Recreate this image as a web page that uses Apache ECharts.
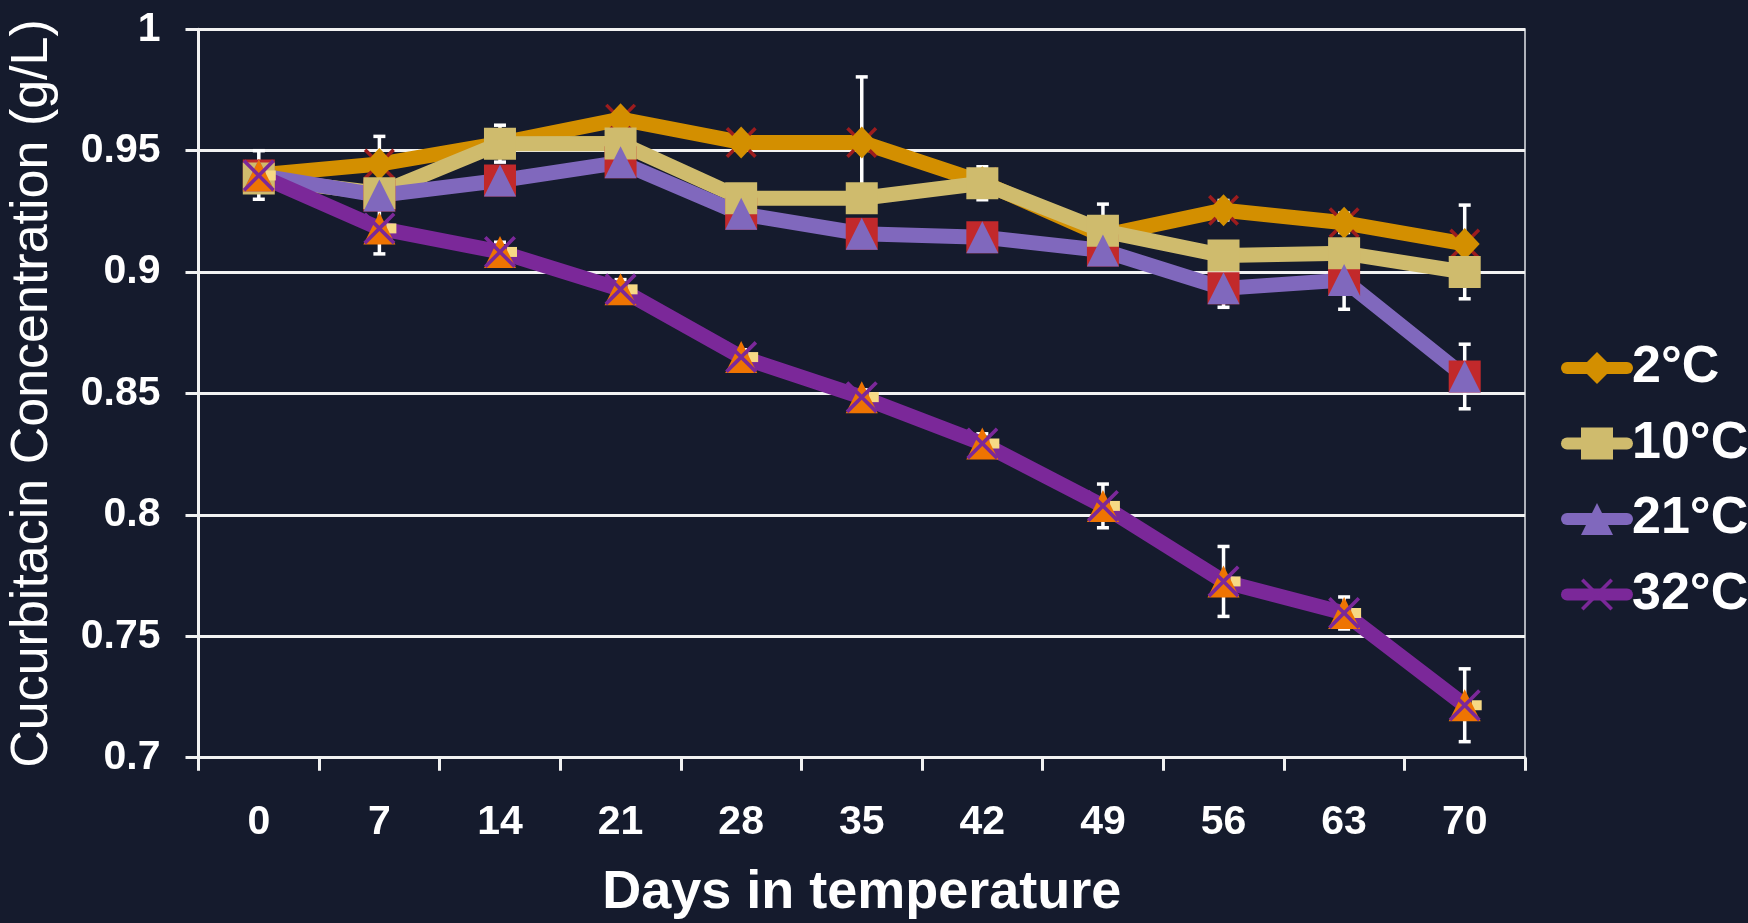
<!DOCTYPE html>
<html>
<head>
<meta charset="utf-8">
<script src="https://cdn.jsdelivr.net/npm/echarts@6/dist/echarts.min.js"></script>
<style>
html,body{margin:0;padding:0;background:#151b2d;}
#chart{width:1748px;height:923px;}
</style>
</head>
<body>
<div id="chart"></div>
<script>
const days = ['0','7','14','21','28','35','42','49','56','63','70'];
const seriesNames = ['2°C','10°C','21°C','32°C'];
const c2  = [0.940, 0.9445, 0.953, 0.963, 0.9534, 0.9534, 0.937, 0.915, 0.9255, 0.9203, 0.9116];
const c10 = [0.9385, 0.9325, 0.9529, 0.953, 0.9304, 0.9304, 0.9366, 0.917, 0.9068, 0.9078, 0.900];
const c21 = [0.9398, 0.9316, 0.9377, 0.9452, 0.924, 0.9158, 0.9144, 0.9089, 0.8933, 0.8967, 0.857];
const c32 = [0.9398, 0.918, 0.9083, 0.8929, 0.865, 0.8485, 0.8294, 0.8037, 0.7726, 0.7596, 0.7216];
const e2  = [0.010, 0.0114, 0.003, 0.003, 0.003, 0.027, 0.003, 0.004, 0.004, 0.004, 0.016];
const e10 = [0.003, 0.004, 0.0076, 0.004, 0.003, 0.003, 0.0068, 0.011, 0.004, 0.004, 0.011];
const e21 = [0.003, 0.004, 0.004, 0.004, 0.003, 0.003, 0.003, 0.004, 0.0078, 0.012, 0.0133];
const e32 = [0.003, 0.0105, 0.004, 0.004, 0.003, 0.003, 0.004, 0.009, 0.0144, 0.0066, 0.015];

const FONT = '"Liberation Sans", Arial, sans-serif';
const COL2 = '#d38f00', COL10 = '#cfbb6d', COL21 = '#8068bd', COL32 = '#7b2899';
const XPATH = 'path://M8,0 L50,42 L92,0 L100,8 L58,50 L100,92 L92,100 L50,58 L8,100 L0,92 L42,50 L0,8 Z';

function errData(vals, errs){ return vals.map((v,i)=>[i, v, errs[i]]); }
const allErr = [].concat(errData(c2,e2), errData(c10,e10), errData(c21,e21), errData(c32,e32));

function renderErr(params, api){
  const i = api.value(0), v = api.value(1), e = api.value(2);
  const top = api.coord([i, v + e]);
  const bot = api.coord([i, v - e]);
  const cap = 6;
  const st = {stroke:'#ffffff', lineWidth:3.5};
  return {type:'group', children:[
    {type:'line', shape:{x1:top[0], y1:top[1], x2:bot[0], y2:bot[1]}, style:st},
    {type:'line', shape:{x1:top[0]-cap, y1:top[1], x2:top[0]+cap, y2:top[1]}, style:st},
    {type:'line', shape:{x1:bot[0]-cap, y1:bot[1], x2:bot[0]+cap, y2:bot[1]}, style:st}
  ]};
}

function lineSeries(name, data, color, symbol, size){
  return {
    name: name, type:'line', data: data, symbol: symbol, symbolSize: size,
    showSymbol:true, showAllSymbol:true, animation:false,
    lineStyle:{color:color, width:15, cap:'round', join:'round'},
    itemStyle:{color:color},
    emphasis:{disabled:true}
  };
}
function markerSeries(data, color, symbol, size, offset){
  return {
    type:'scatter', data: data, symbol: symbol, symbolSize: size,
    symbolOffset: offset || [0,0], animation:false,
    itemStyle:{color:color, opacity:1}, emphasis:{disabled:true}, silent:true
  };
}

const chart = echarts.init(document.getElementById('chart'));
chart.setOption({
  backgroundColor:'#151b2d',
  animation:false,
  grid:{left:198.5, right:223, top:29.3, bottom:165.3, show:true, borderColor:'#aeb2ba', borderWidth:2,
        containLabel:false, outerBoundsMode:'none'},
  legend:{
    orient:'vertical', left:1556, top:337, itemWidth:60, itemHeight:40, itemGap:23.5,
    lineStyle:{width:12, cap:'round'},
    textStyle:{color:'#ffffff', fontSize:52, fontWeight:'bold', fontFamily:FONT},
    data: seriesNames
  },
  xAxis:{
    type:'category', data: days, boundaryGap:true,
    name:'Days in temperature', nameLocation:'middle', nameGap:108,
    nameTextStyle:{color:'#ffffff', fontSize:54, fontWeight:'bold', fontFamily:FONT},
    axisLine:{lineStyle:{color:'#f2f2f2', width:3}},
    axisTick:{show:true, interval:0, length:13, lineStyle:{color:'#f2f2f2', width:3}},
    axisLabel:{color:'#ffffff', fontSize:41, fontWeight:'bold', fontFamily:FONT, margin:44, interval:0},
    splitLine:{show:false}
  },
  yAxis:{
    type:'value', min:0.7, max:1, interval:0.05,
    name:'Cucurbitacin Concentration (g/L)', nameLocation:'middle', nameGap:140,
    nameTextStyle:{color:'#ffffff', fontSize:52, fontFamily:FONT},
    axisLine:{show:true, lineStyle:{color:'#f2f2f2', width:3}},
    axisTick:{show:true, length:13, lineStyle:{color:'#f2f2f2', width:3}},
    axisLabel:{color:'#ffffff', fontSize:41, fontWeight:'bold', fontFamily:FONT, margin:38,
      formatter: v => String(Math.round(v*100)/100)},
    splitLine:{show:true, lineStyle:{color:'#f2f2f2', width:3}}
  },
  series:[
    {type:'custom', renderItem:renderErr, data: allErr, encode:{x:0, y:1}, silent:true, animation:false, z:1},
    Object.assign(markerSeries(c2, '#9c1c1e', XPATH, 31), {z:2}),
    Object.assign(lineSeries('2°C', c2, COL2, 'diamond', [30,32]), {z:2}),
    Object.assign(markerSeries(c21, '#c2292b', 'rect', 32), {z:2}),
    Object.assign(lineSeries('10°C', c10, COL10, 'rect', 32), {z:2}),
    Object.assign(lineSeries('21°C', c21, COL21, 'triangle', 32), {z:2}),
    Object.assign(markerSeries(c32, '#f6d985', 'rect', 10, [12,0]), {z:2}),
    Object.assign(markerSeries(c32, '#ee7402', 'triangle', 32), {z:2}),
    Object.assign(lineSeries('32°C', c32, COL32, XPATH, 32), {z:2})
  ]
});
</script>
</body>
</html>
